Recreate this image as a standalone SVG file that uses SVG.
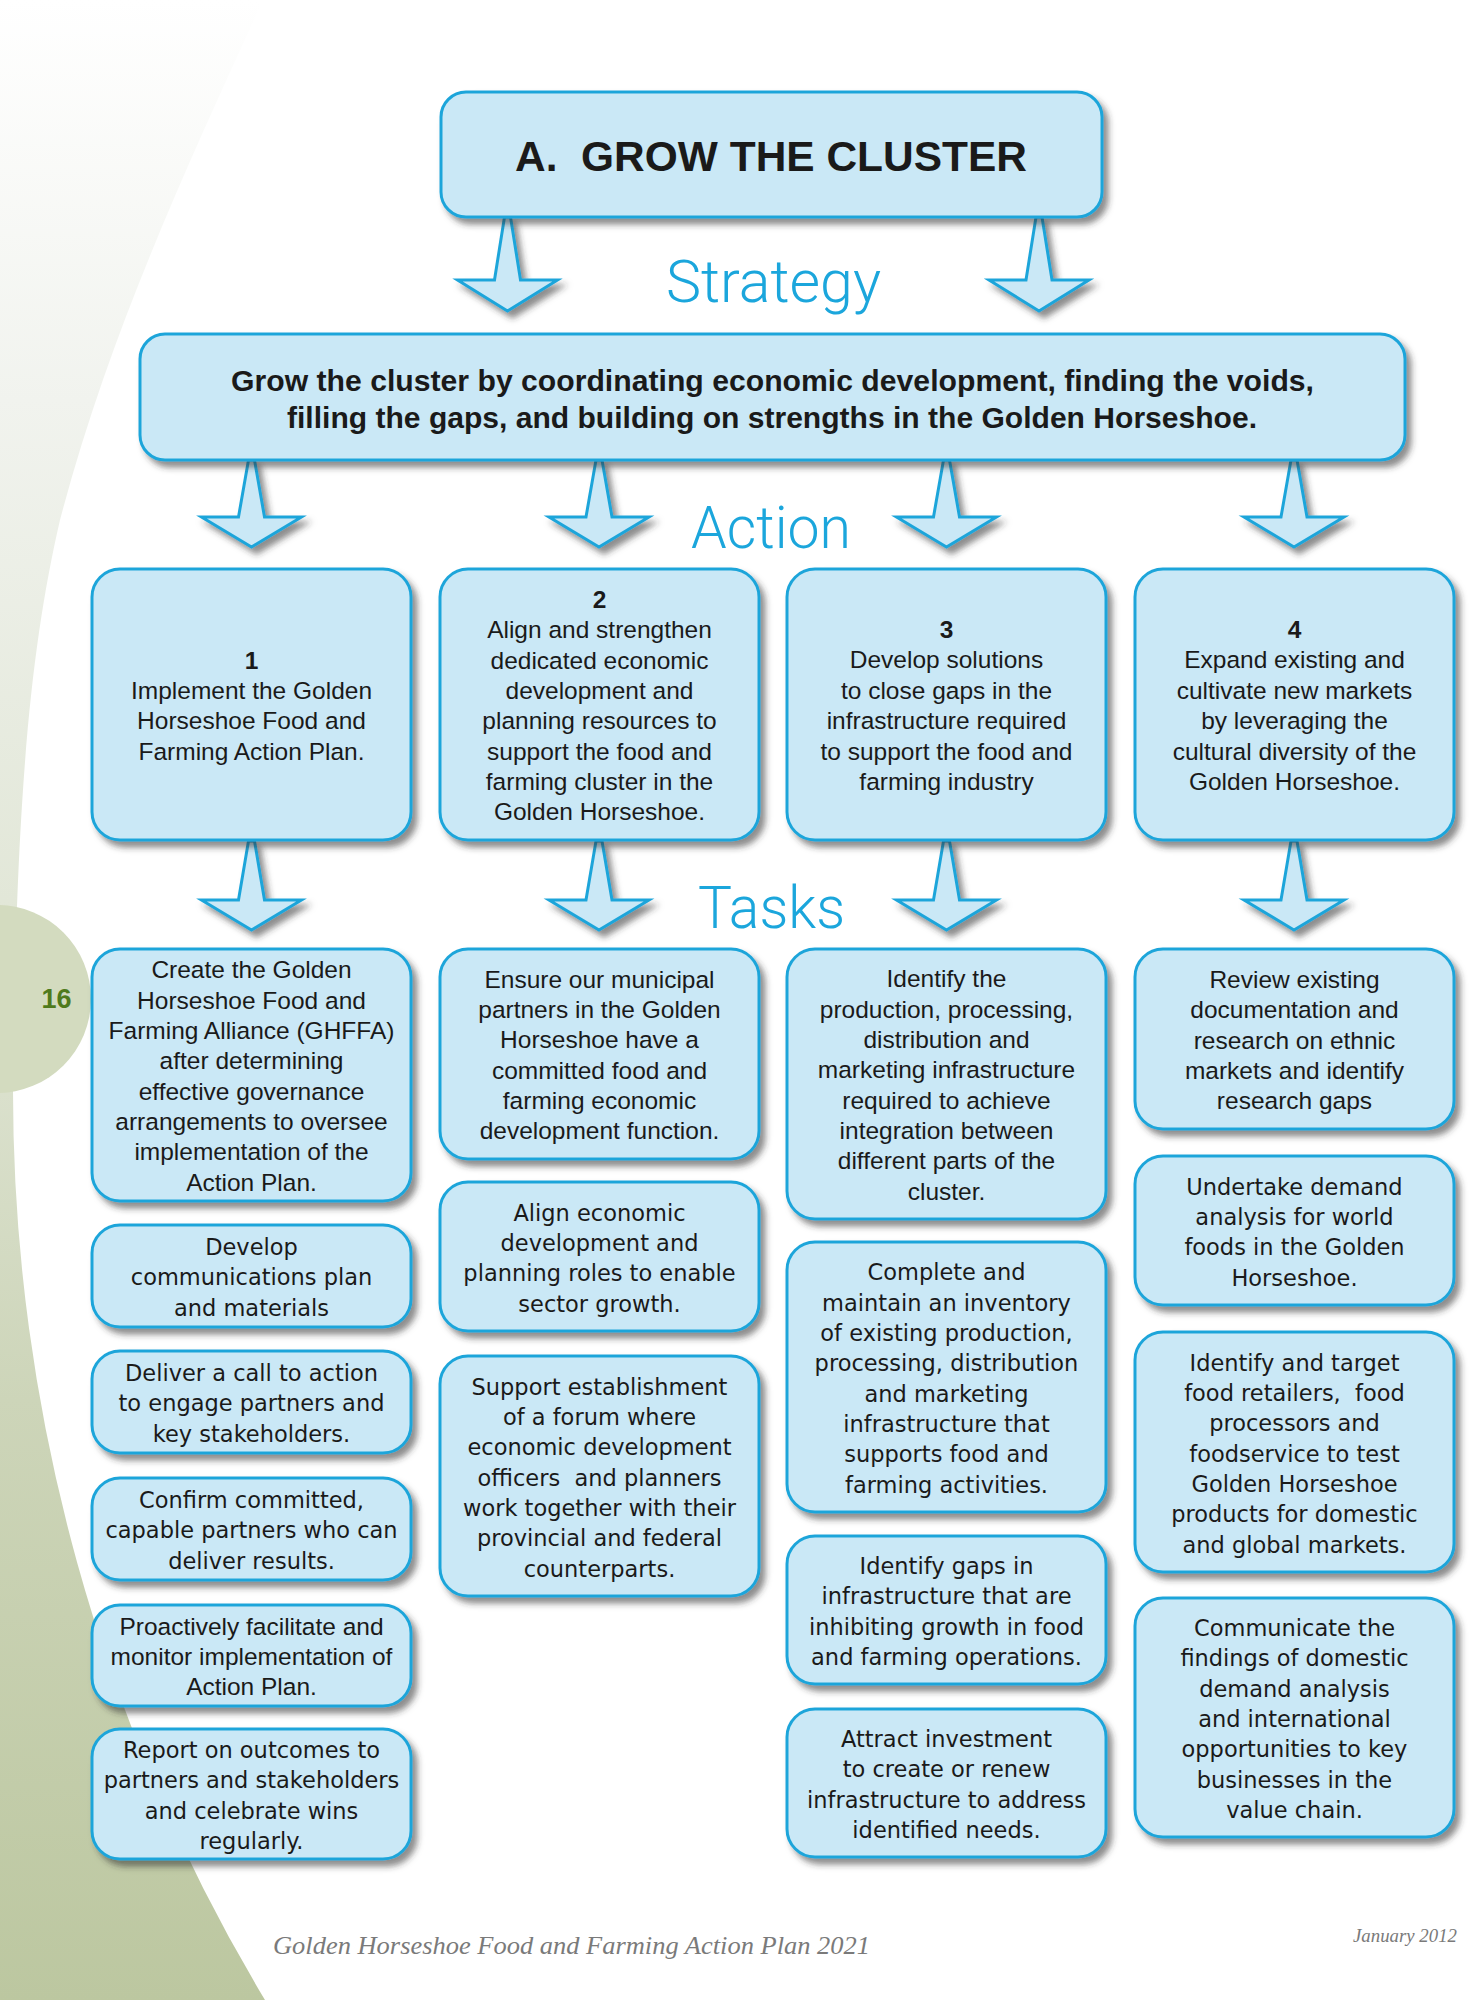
<svg xmlns="http://www.w3.org/2000/svg" width="1475" height="2000" viewBox="0 0 1475 2000">
<defs>
<linearGradient id="bg" x1="0" y1="0" x2="0" y2="2000" gradientUnits="userSpaceOnUse">
<stop offset="0" stop-color="#ffffff"/>
<stop offset="0.2" stop-color="#f1f3ee"/>
<stop offset="0.45" stop-color="#e2e7d8"/>
<stop offset="0.7" stop-color="#cdd5b9"/>
<stop offset="1" stop-color="#bcc7a0"/>
</linearGradient>
<filter id="sh" x="-10%" y="-10%" width="130%" height="140%">
<feDropShadow dx="5" dy="6" stdDeviation="3" flood-color="#333333" flood-opacity="0.55"/>
</filter>
<style>
.box{fill:#cae8f6;stroke:#1ea5da;stroke-width:3;filter:url(#sh)}
.arr{fill:#cae8f6;stroke:#1ea5da;stroke-width:3;stroke-linejoin:miter;filter:url(#sh)}
.h{font-family:"Liberation Sans",Arial,sans-serif;font-size:24.5px;fill:#1a1a1a;text-anchor:middle}
.l{font-family:"DejaVu Sans","Liberation Sans",sans-serif;font-size:22.5px;fill:#1a1a1a;text-anchor:middle}
.b{font-weight:bold}
.lab{font-family:Roboto,Lato,"Liberation Sans",sans-serif;font-weight:300;font-size:60px;fill:#1ba6dc}
.foot{font-family:"Liberation Serif","Times New Roman",serif;font-style:italic;fill:#7a7a7a}
</style>
</defs>
<rect x="0" y="0" width="1475" height="2000" fill="#ffffff"/>
<g id="background">
<path d="M0,0 L263,0 C190,160 110,330 60,520 C30,650 16,800 13,1091 A1766,1766 0 0 0 265,2000 L0,2000 Z" fill="url(#bg)"/>
<circle cx="-3" cy="999" r="94" fill="#d3dbbf"/>
<text x="56.5" y="1008" text-anchor="middle" font-family="Liberation Sans,Arial,sans-serif" font-weight="bold" font-size="27" fill="#4f7a1c">16</text>
</g>
<g id="connectors">
<polygon class="arr" points="504.5,217 510.5,217 520.5,280 557.5,280 507.5,311 457.5,280 494.5,280"/>
<polygon class="arr" points="1036,217 1042,217 1052,280 1089,280 1039,311 989,280 1026,280"/>
<polygon class="arr" points="248.5,460 254.5,460 264.5,517 301.5,517 251.5,547 201.5,517 238.5,517"/>
<polygon class="arr" points="596,460 602,460 612,517 649,517 599,547 549,517 586,517"/>
<polygon class="arr" points="943.5,460 949.5,460 959.5,517 996.5,517 946.5,547 896.5,517 933.5,517"/>
<polygon class="arr" points="1291,460 1297,460 1307,517 1344,517 1294,547 1244,517 1281,517"/>
<polygon class="arr" points="248.5,841 254.5,841 264.5,900 301.5,900 251.5,930 201.5,900 238.5,900"/>
<polygon class="arr" points="596,841 602,841 612,900 649,900 599,930 549,900 586,900"/>
<polygon class="arr" points="943.5,841 949.5,841 959.5,900 996.5,900 946.5,930 896.5,900 933.5,900"/>
<polygon class="arr" points="1291,841 1297,841 1307,900 1344,900 1294,930 1244,900 1281,900"/>
</g>
<g id="labels">
<text class="lab" x="666" y="302" textLength="215" lengthAdjust="spacingAndGlyphs">Strategy</text>
<text class="lab" x="691" y="548" textLength="160" lengthAdjust="spacingAndGlyphs">Action</text>
<text class="lab" x="698" y="928" textLength="147" lengthAdjust="spacingAndGlyphs">Tasks</text>
</g>
<g id="title">
<rect class="box" x="441" y="92" width="661" height="125" rx="25"/>
<text x="771" y="171" xml:space="preserve" text-anchor="middle" font-family="Liberation Sans,Arial,sans-serif" font-weight="bold" font-size="42" fill="#1a1a1a" textLength="512" lengthAdjust="spacingAndGlyphs">A.  GROW THE CLUSTER</text>
</g>
<g id="strategy">
<rect class="box" x="140" y="334" width="1265" height="126" rx="25"/>
<text x="772.5" y="391" text-anchor="middle" font-family="Liberation Sans,Arial,sans-serif" font-weight="bold" font-size="29" fill="#1a1a1a" textLength="1083" lengthAdjust="spacingAndGlyphs">Grow the cluster by coordinating economic development, finding the voids,</text>
<text x="772" y="428" text-anchor="middle" font-family="Liberation Sans,Arial,sans-serif" font-weight="bold" font-size="29" fill="#1a1a1a" textLength="970" lengthAdjust="spacingAndGlyphs">filling the gaps, and building on strengths in the Golden Horseshoe.</text>
</g>
<g id="action1">
<rect class="box" x="92" y="569" width="319" height="271" rx="28"/>
<text class="h" y="668.5"><tspan class="b" x="251.5">1</tspan><tspan x="251.5" dy="30.35">Implement the Golden</tspan><tspan x="251.5" dy="30.35">Horseshoe Food and</tspan><tspan x="251.5" dy="30.35">Farming Action Plan.</tspan></text>
</g>
<g id="action2">
<rect class="box" x="440" y="569" width="319" height="271" rx="28"/>
<text class="h" y="607.8"><tspan class="b" x="599.5">2</tspan><tspan x="599.5" dy="30.35">Align and strengthen</tspan><tspan x="599.5" dy="30.35">dedicated economic</tspan><tspan x="599.5" dy="30.35">development and</tspan><tspan x="599.5" dy="30.35">planning resources to</tspan><tspan x="599.5" dy="30.35">support the food and</tspan><tspan x="599.5" dy="30.35">farming cluster in the</tspan><tspan x="599.5" dy="30.35">Golden Horseshoe.</tspan></text>
</g>
<g id="action3">
<rect class="box" x="787" y="569" width="319" height="271" rx="28"/>
<text class="h" y="638.1"><tspan class="b" x="946.5">3</tspan><tspan x="946.5" dy="30.35">Develop solutions</tspan><tspan x="946.5" dy="30.35">to close gaps in the</tspan><tspan x="946.5" dy="30.35">infrastructure required</tspan><tspan x="946.5" dy="30.35">to support the food and</tspan><tspan x="946.5" dy="30.35">farming industry</tspan></text>
</g>
<g id="action4">
<rect class="box" x="1135" y="569" width="319" height="271" rx="28"/>
<text class="h" y="638.1"><tspan class="b" x="1294.5">4</tspan><tspan x="1294.5" dy="30.35">Expand existing and</tspan><tspan x="1294.5" dy="30.35">cultivate new markets</tspan><tspan x="1294.5" dy="30.35">by leveraging the</tspan><tspan x="1294.5" dy="30.35">cultural diversity of the</tspan><tspan x="1294.5" dy="30.35">Golden Horseshoe.</tspan></text>
</g>
<g id="task1-1">
<rect class="box" x="92" y="949" width="319" height="252" rx="28"/>
<text class="h" y="978.3"><tspan x="251.5">Create the Golden</tspan><tspan x="251.5" dy="30.35">Horseshoe Food and</tspan><tspan x="251.5" dy="30.35">Farming Alliance (GHFFA)</tspan><tspan x="251.5" dy="30.35">after determining</tspan><tspan x="251.5" dy="30.35">effective governance</tspan><tspan x="251.5" dy="30.35">arrangements to oversee</tspan><tspan x="251.5" dy="30.35">implementation of the</tspan><tspan x="251.5" dy="30.35">Action Plan.</tspan></text>
</g>
<g id="task1-2">
<rect class="box" x="92" y="1225" width="319" height="102" rx="28"/>
<text class="l" y="1255.1"><tspan x="251.5">Develop</tspan><tspan x="251.5" dy="30.35">communications plan</tspan><tspan x="251.5" dy="30.35">and materials</tspan></text>
</g>
<g id="task1-3">
<rect class="box" x="92" y="1351" width="319" height="102" rx="28"/>
<text class="l" y="1381.1"><tspan x="251.5">Deliver a call to action</tspan><tspan x="251.5" dy="30.35">to engage partners and</tspan><tspan x="251.5" dy="30.35">key stakeholders.</tspan></text>
</g>
<g id="task1-4">
<rect class="box" x="92" y="1478" width="319" height="102" rx="28"/>
<text class="l" y="1508.1"><tspan x="251.5">Confirm committed,</tspan><tspan x="251.5" dy="30.35">capable partners who can</tspan><tspan x="251.5" dy="30.35">deliver results.</tspan></text>
</g>
<g id="task1-5">
<rect class="box" x="92" y="1605" width="319" height="101" rx="28"/>
<text class="h" y="1634.6"><tspan x="251.5">Proactively facilitate and</tspan><tspan x="251.5" dy="30.35">monitor implementation of</tspan><tspan x="251.5" dy="30.35">Action Plan.</tspan></text>
</g>
<g id="task1-6">
<rect class="box" x="92" y="1729" width="319" height="130" rx="28"/>
<text class="l" y="1758"><tspan x="251.5">Report on outcomes to</tspan><tspan x="251.5" dy="30.35">partners and stakeholders</tspan><tspan x="251.5" dy="30.35">and celebrate wins</tspan><tspan x="251.5" dy="30.35">regularly.</tspan></text>
</g>
<g id="task2-1">
<rect class="box" x="440" y="949" width="319" height="210" rx="28"/>
<text class="h" y="987.6"><tspan x="599.5">Ensure our municipal</tspan><tspan x="599.5" dy="30.35">partners in the Golden</tspan><tspan x="599.5" dy="30.35">Horseshoe have a</tspan><tspan x="599.5" dy="30.35">committed food and</tspan><tspan x="599.5" dy="30.35">farming economic</tspan><tspan x="599.5" dy="30.35">development function.</tspan></text>
</g>
<g id="task2-2">
<rect class="box" x="440" y="1182" width="319" height="149" rx="28"/>
<text class="l" y="1220.5"><tspan x="599.5">Align economic</tspan><tspan x="599.5" dy="30.35">development and</tspan><tspan x="599.5" dy="30.35">planning roles to enable</tspan><tspan x="599.5" dy="30.35">sector growth.</tspan></text>
</g>
<g id="task2-3">
<rect class="box" x="440" y="1356" width="319" height="240" rx="28"/>
<text class="l" y="1394.5" xml:space="preserve"><tspan x="599.5">Support establishment</tspan><tspan x="599.5" dy="30.35">of a forum where</tspan><tspan x="599.5" dy="30.35">economic development</tspan><tspan x="599.5" dy="30.35">officers  and planners</tspan><tspan x="599.5" dy="30.35">work together with their</tspan><tspan x="599.5" dy="30.35">provincial and federal</tspan><tspan x="599.5" dy="30.35">counterparts.</tspan></text>
</g>
<g id="task3-1">
<rect class="box" x="787" y="949" width="319" height="270" rx="28"/>
<text class="h" y="987.3"><tspan x="946.5">Identify the</tspan><tspan x="946.5" dy="30.35">production, processing,</tspan><tspan x="946.5" dy="30.35">distribution and</tspan><tspan x="946.5" dy="30.35">marketing infrastructure</tspan><tspan x="946.5" dy="30.35">required to achieve</tspan><tspan x="946.5" dy="30.35">integration between</tspan><tspan x="946.5" dy="30.35">different parts of the</tspan><tspan x="946.5" dy="30.35">cluster.</tspan></text>
</g>
<g id="task3-2">
<rect class="box" x="787" y="1242" width="319" height="270" rx="28"/>
<text class="l" y="1280.3"><tspan x="946.5">Complete and</tspan><tspan x="946.5" dy="30.35">maintain an inventory</tspan><tspan x="946.5" dy="30.35">of existing production,</tspan><tspan x="946.5" dy="30.35">processing, distribution</tspan><tspan x="946.5" dy="30.35">and marketing</tspan><tspan x="946.5" dy="30.35">infrastructure that</tspan><tspan x="946.5" dy="30.35">supports food and</tspan><tspan x="946.5" dy="30.35">farming activities.</tspan></text>
</g>
<g id="task3-3">
<rect class="box" x="787" y="1536" width="319" height="148" rx="28"/>
<text class="l" y="1574"><tspan x="946.5">Identify gaps in</tspan><tspan x="946.5" dy="30.35">infrastructure that are</tspan><tspan x="946.5" dy="30.35">inhibiting growth in food</tspan><tspan x="946.5" dy="30.35">and farming operations.</tspan></text>
</g>
<g id="task3-4">
<rect class="box" x="787" y="1709" width="319" height="148" rx="28"/>
<text class="l" y="1747"><tspan x="946.5">Attract investment</tspan><tspan x="946.5" dy="30.35">to create or renew</tspan><tspan x="946.5" dy="30.35">infrastructure to address</tspan><tspan x="946.5" dy="30.35">identified needs.</tspan></text>
</g>
<g id="task4-1">
<rect class="box" x="1135" y="949" width="319" height="180" rx="28"/>
<text class="h" y="987.8"><tspan x="1294.5">Review existing</tspan><tspan x="1294.5" dy="30.35">documentation and</tspan><tspan x="1294.5" dy="30.35">research on ethnic</tspan><tspan x="1294.5" dy="30.35">markets and identify</tspan><tspan x="1294.5" dy="30.35">research gaps</tspan></text>
</g>
<g id="task4-2">
<rect class="box" x="1135" y="1156" width="319" height="149" rx="28"/>
<text class="l" y="1194.5"><tspan x="1294.5">Undertake demand</tspan><tspan x="1294.5" dy="30.35">analysis for world</tspan><tspan x="1294.5" dy="30.35">foods in the Golden</tspan><tspan x="1294.5" dy="30.35">Horseshoe.</tspan></text>
</g>
<g id="task4-3">
<rect class="box" x="1135" y="1332" width="319" height="240" rx="28"/>
<text class="l" y="1370.5" xml:space="preserve"><tspan x="1294.5">Identify and target</tspan><tspan x="1294.5" dy="30.35">food retailers,  food</tspan><tspan x="1294.5" dy="30.35">processors and</tspan><tspan x="1294.5" dy="30.35">foodservice to test</tspan><tspan x="1294.5" dy="30.35">Golden Horseshoe</tspan><tspan x="1294.5" dy="30.35">products for domestic</tspan><tspan x="1294.5" dy="30.35">and global markets.</tspan></text>
</g>
<g id="task4-4">
<rect class="box" x="1135" y="1598" width="319" height="239" rx="28"/>
<text class="l" y="1636"><tspan x="1294.5">Communicate the</tspan><tspan x="1294.5" dy="30.35">findings of domestic</tspan><tspan x="1294.5" dy="30.35">demand analysis</tspan><tspan x="1294.5" dy="30.35">and international</tspan><tspan x="1294.5" dy="30.35">opportunities to key</tspan><tspan x="1294.5" dy="30.35">businesses in the</tspan><tspan x="1294.5" dy="30.35">value chain.</tspan></text>
</g>
<g id="footer">
<text class="foot" x="273" y="1954" font-size="26" textLength="597" lengthAdjust="spacingAndGlyphs">Golden Horseshoe Food and Farming Action Plan 2021</text>
<text class="foot" x="1353" y="1942" font-size="18" textLength="104" lengthAdjust="spacingAndGlyphs">January 2012</text>
</g>
</svg>
